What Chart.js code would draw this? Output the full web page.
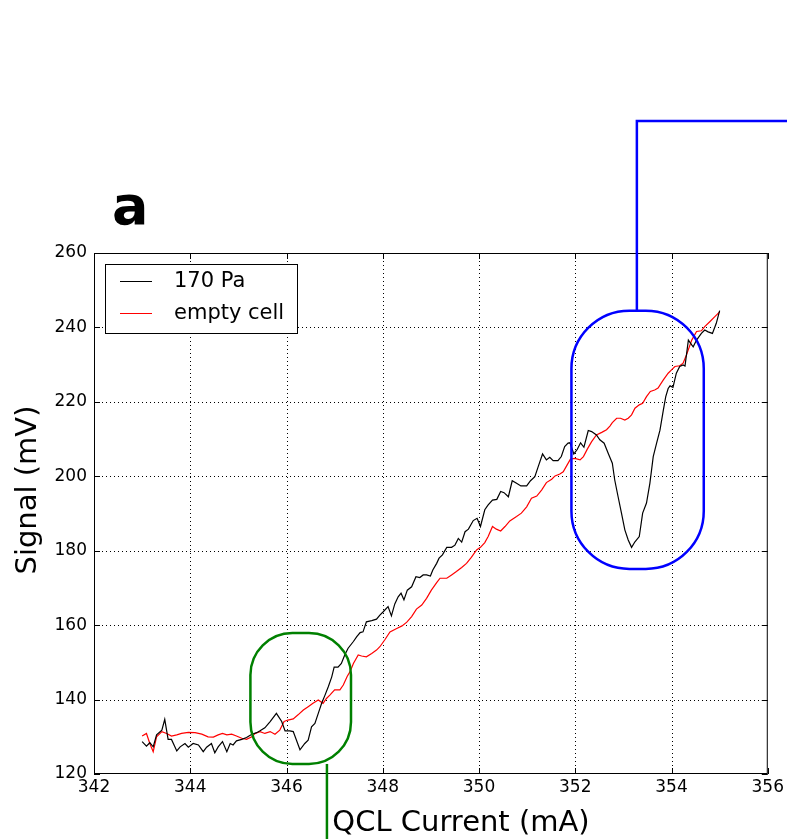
<!DOCTYPE html>
<html>
<head>
<meta charset="utf-8">
<script src="https://cdn.jsdelivr.net/npm/chart.js@4.4.1/dist/chart.umd.min.js"></script>
<style>
  html, body { margin: 0; padding: 0; background: #fff; }
  #wrap { width: 787px; height: 839px; position: relative; }
</style>
</head>
<body>
<div id="wrap"><canvas id="chart"></canvas></div>
<script>
// QCL current (mA) / signal (mV)
const blackX = [343.00, 343.09, 343.16, 343.23, 343.30, 343.41, 343.47, 343.54, 343.61, 343.72, 343.79, 343.89, 343.96,
  344.06, 344.17, 344.27, 344.34, 344.44, 344.51, 344.58, 344.67, 344.76, 344.83, 344.89, 344.96,
  345.07, 345.17, 345.28, 345.38, 345.45, 345.55, 345.66, 345.79, 345.90, 345.97,
  346.07, 346.14, 346.28, 346.38, 346.45, 346.52, 346.59, 346.66, 346.73, 346.80, 346.87, 346.94, 346.99,
  347.07, 347.14, 347.21, 347.28, 347.39, 347.46, 347.53, 347.59, 347.66, 347.77, 347.87, 347.94,
  348.01, 348.11, 348.18, 348.25, 348.32, 348.38, 348.44, 348.51, 348.60, 348.69, 348.77, 348.84, 348.91, 348.99,
  349.04, 349.12, 349.17, 349.24, 349.33, 349.43, 349.50, 349.57, 349.64, 349.71, 349.78, 349.88, 349.96,
  350.03, 350.12, 350.19, 350.28, 350.37, 350.45, 350.52, 350.61, 350.69, 350.78, 350.87, 350.99,
  351.07, 351.16, 351.23, 351.32, 351.40, 351.47, 351.54, 351.64, 351.71, 351.78, 351.85, 351.89, 351.97,
  352.04, 352.11, 352.18, 352.27, 352.34, 352.44, 352.51, 352.60, 352.69, 352.77, 352.82, 352.89, 352.96,
  353.03, 353.10, 353.17, 353.24, 353.33, 353.40, 353.48, 353.55, 353.62, 353.69, 353.76, 353.83, 353.88, 353.93, 353.97,
  354.03, 354.10, 354.17, 354.24, 354.28, 354.35, 354.42, 354.45, 354.52, 354.62, 354.69, 354.76, 354.85, 354.93, 355.00];
const blackY = [128.7, 127.5, 128.4, 127.3, 130.5, 131.8, 134.7, 129.3, 129.3, 126.2, 127.3, 128.2, 127.2,
  128.2, 127.8, 126.0, 127.2, 128.2, 125.7, 127.3, 128.7, 126.0, 128.2, 127.8, 128.9,
  129.3, 129.8, 130.7, 131.1, 131.6, 132.4, 134.1, 136.3, 134.1, 131.6,
  131.6, 131.4, 126.5, 128.2, 129.1, 132.7, 133.6, 136.3, 139.0, 141.2, 143.5, 146.1, 148.7,
  148.7, 149.7, 152.0, 153.8, 155.6, 156.9, 158.0, 158.2, 160.9, 161.2, 161.6, 162.7,
  163.6, 165.0, 162.5, 165.7, 167.6, 168.6, 166.8, 169.4, 170.3, 173.0, 172.8, 173.5, 173.5, 173.2,
  174.8, 176.6, 178.0, 178.9, 180.9, 180.9, 181.5, 183.3, 182.3, 185.1, 185.8, 188.1, 188.7,
  186.5, 191.0, 192.3, 193.6, 193.8, 195.9, 195.6, 194.5, 198.8, 198.1, 197.4, 197.4,
  198.8, 199.9, 202.6, 206.0, 204.4, 205.1, 204.2, 204.2, 205.3, 208.0, 208.9, 209.0, 206.0,
  207.2, 209.0, 207.8, 212.3, 212.0, 211.1, 209.8, 208.9, 206.0, 203.5, 199.0, 194.5, 190.1,
  185.6, 182.9, 180.9, 182.4, 183.8, 190.1, 192.8, 198.1, 205.3, 208.9, 212.4, 217.8, 221.4, 223.6, 224.3,
  223.9, 227.7, 229.5, 229.9, 229.6, 236.6, 235.3, 234.8, 236.6, 238.4, 239.3, 238.8, 238.4, 241.1, 244.5];

const redX = [343.00, 343.09, 343.16, 343.23, 343.30, 343.41, 343.51, 343.61, 343.72, 343.82, 343.96,
  344.10, 344.24, 344.37, 344.48, 344.58, 344.67, 344.76, 344.86, 344.96,
  345.07, 345.17, 345.28, 345.35, 345.45, 345.55, 345.66, 345.76, 345.86, 345.95,
  346.03, 346.14, 346.24, 346.35, 346.45, 346.55, 346.66, 346.76, 346.83, 346.90,
  347.00, 347.11, 347.18, 347.26, 347.32, 347.39, 347.49, 347.56, 347.66, 347.77, 347.87, 347.94,
  348.04, 348.15, 348.29, 348.40, 348.50, 348.60, 348.70, 348.81, 348.91,
  349.01, 349.12, 349.19, 349.33, 349.43, 349.53, 349.64, 349.74, 349.84, 349.95,
  350.03, 350.12, 350.19, 350.28, 350.36, 350.45, 350.54, 350.64, 350.78, 350.88, 350.99,
  351.09, 351.20, 351.30, 351.40, 351.51, 351.58, 351.68, 351.75, 351.82, 351.90, 351.99,
  352.10, 352.17, 352.25, 352.34, 352.44, 352.55, 352.65, 352.72, 352.77, 352.86, 352.94,
  353.03, 353.10, 353.17, 353.24, 353.33, 353.40, 353.48, 353.56, 353.65, 353.72, 353.83, 353.93,
  354.00, 354.07, 354.17, 354.24, 354.31, 354.42, 354.52, 354.62, 354.69, 354.80, 354.90, 355.00];
const redY = [130.2, 130.9, 128.2, 126.0, 130.0, 131.4, 130.9, 130.2, 130.5, 130.9, 131.2,
  131.1, 130.7, 130.0, 129.9, 130.5, 130.9, 130.5, 130.7, 130.2,
  129.6, 129.3, 130.0, 130.9, 131.4, 130.9, 131.4, 130.7, 131.8, 134.1,
  134.5, 134.8, 135.9, 137.2, 138.1, 139.0, 139.9, 139.0, 140.3, 141.2,
  142.6, 142.6, 143.9, 146.2, 147.5, 149.7, 152.0, 151.7, 151.5, 152.4, 153.3, 154.2,
  156.0, 158.2, 159.1, 159.8, 160.8, 162.3, 164.3, 165.4, 167.2,
  169.4, 171.4, 172.6, 172.6, 173.5, 174.4, 175.5, 176.6, 178.2, 180.2,
  180.9, 182.2, 183.8, 186.5, 185.8, 185.3, 186.5, 188.0, 189.2, 190.1, 191.8,
  194.1, 194.7, 196.3, 198.3, 199.2, 200.1, 200.6, 201.2, 202.8, 204.6, 204.8,
  204.4, 205.3, 207.3, 209.3, 211.1, 211.8, 212.5, 213.5, 214.4, 215.6, 215.6,
  215.1, 215.6, 216.5, 218.3, 219.2, 219.6, 221.4, 222.8, 223.2, 223.7, 225.9, 227.7,
  228.6, 229.5, 229.7, 230.4, 232.6, 236.6, 238.9, 239.1, 240.2, 241.6, 242.9, 244.2];

const seriesNames = ['170 Pa', 'empty cell'];
const xTicks = [342, 344, 346, 348, 350, 352, 354, 356];
const yTicks = [120, 140, 160, 180, 200, 220, 240, 260];

const FONT = '"DejaVu Sans", sans-serif';

// highlighted regions, in data units
const greenBox = { x0: 345.25, x1: 347.34, y0: 122.7, y1: 157.9, r: 42 };
const blueBox = { x0: 351.92, x1: 354.67, y0: 175.1, y1: 244.5, r: 58 };

function roundBox(ctx, x0, y0, x1, y1, r) {
    ctx.beginPath();
    ctx.moveTo(x0 + r, y0);
    ctx.arcTo(x1, y0, x1, y1, r);
    ctx.arcTo(x1, y1, x0, y1, r);
    ctx.arcTo(x0, y1, x0, y0, r);
    ctx.arcTo(x0, y0, x1, y0, r);
    ctx.closePath();
    ctx.stroke();
}

const overlay = {
    id: 'overlay',
    beforeDatasetsDraw(chart) {
        const { ctx, chartArea: a, scales: { x, y } } = chart;
        ctx.save();
        ctx.strokeStyle = '#000';
        ctx.lineWidth = 1;
        ctx.setLineDash([1, 3]);
        xTicks.slice(1, -1).forEach(v => {
            const px = Math.round(x.getPixelForValue(v)) + 0.5;
            ctx.beginPath(); ctx.moveTo(px, a.top); ctx.lineTo(px, a.bottom); ctx.stroke();
        });
        yTicks.slice(1, -1).forEach(v => {
            const py = Math.round(y.getPixelForValue(v)) + 0.5;
            ctx.beginPath(); ctx.moveTo(a.left, py); ctx.lineTo(a.right, py); ctx.stroke();
        });
        ctx.restore();
    },
    afterDatasetsDraw(chart) {
        const { ctx, chartArea: a, scales: { x, y } } = chart;
        ctx.save();

        // frame + inward ticks
        ctx.strokeStyle = '#000';
        ctx.lineWidth = 1;
        ctx.strokeRect(a.left + 0.5, a.top + 0.5, a.width - 1, a.height - 1);
        xTicks.forEach(v => {
            const px = Math.round(x.getPixelForValue(v)) + 0.5;
            ctx.beginPath();
            ctx.moveTo(px, a.bottom); ctx.lineTo(px, a.bottom - 6);
            ctx.moveTo(px, a.top); ctx.lineTo(px, a.top + 6);
            ctx.stroke();
        });
        yTicks.forEach(v => {
            const py = Math.round(y.getPixelForValue(v)) + 0.5;
            ctx.beginPath();
            ctx.moveTo(a.left, py); ctx.lineTo(a.left + 6, py);
            ctx.moveTo(a.right, py); ctx.lineTo(a.right - 6, py);
            ctx.stroke();
        });

        // legend
        ctx.fillStyle = '#fff';
        ctx.fillRect(105, 264, 192, 69);
        ctx.strokeRect(105.5, 264.5, 192, 69);
        const colors = ['#000000', '#ff0000'];
        const rows = [281, 313];
        ctx.font = '21px ' + FONT;
        ctx.textBaseline = 'middle';
        ctx.textAlign = 'left';
        seriesNames.forEach((name, i) => {
            ctx.strokeStyle = colors[i];
            ctx.beginPath(); ctx.moveTo(120, rows[i] + 0.5); ctx.lineTo(152, rows[i] + 0.5); ctx.stroke();
            ctx.fillStyle = '#000';
            ctx.fillText(name, 174, rows[i] + 1);
        });

        // highlighted regions and leaders
        ctx.lineWidth = 2.5;
        ctx.strokeStyle = '#008000';
        roundBox(ctx, x.getPixelForValue(greenBox.x0), y.getPixelForValue(greenBox.y1),
            x.getPixelForValue(greenBox.x1), y.getPixelForValue(greenBox.y0), greenBox.r);
        const gx = x.getPixelForValue(346.84);
        ctx.beginPath(); ctx.moveTo(gx, y.getPixelForValue(greenBox.y0)); ctx.lineTo(gx, chart.height); ctx.stroke();

        ctx.strokeStyle = '#0000ff';
        roundBox(ctx, x.getPixelForValue(blueBox.x0), y.getPixelForValue(blueBox.y1),
            x.getPixelForValue(blueBox.x1), y.getPixelForValue(blueBox.y0), blueBox.r);
        const bx = x.getPixelForValue(353.28);
        ctx.beginPath();
        ctx.moveTo(bx, y.getPixelForValue(blueBox.y1));
        ctx.lineTo(bx, 121);
        ctx.lineTo(chart.width, 121);
        ctx.stroke();

        ctx.restore();
    },
    afterDraw(chart) {
        const { ctx } = chart;
        ctx.save();
        ctx.fillStyle = '#000';
        ctx.font = 'bold 54px ' + FONT;
        ctx.textAlign = 'left';
        ctx.textBaseline = 'alphabetic';
        ctx.fillText('a', 112, 224);

        ctx.font = '29px ' + FONT;
        ctx.textAlign = 'center';
        ctx.fillText('QCL Current (mA)', 461, 831);

        ctx.translate(28, 490);
        ctx.rotate(-Math.PI / 2);
        ctx.textBaseline = 'middle';
        ctx.fillText('Signal (mV)', 0, 0);
        ctx.restore();
    }
};

new Chart(document.getElementById('chart'), {
    type: 'line',
    data: {
        datasets: [
            {
                label: seriesNames[0],
                data: blackX.map((v, i) => ({ x: v, y: blackY[i] })),
                borderColor: '#000000', borderWidth: 1.2,
                pointRadius: 0, tension: 0, fill: false
            },
            {
                label: seriesNames[1],
                data: redX.map((v, i) => ({ x: v, y: redY[i] })),
                borderColor: '#ff0000', borderWidth: 1.2,
                pointRadius: 0, tension: 0, fill: false
            }
        ]
    },
    options: {
        responsive: true,
        maintainAspectRatio: false,
        animation: false,
        layout: { padding: { left: 0, top: 253, right: 19, bottom: 0 } },
        plugins: { legend: { display: false }, tooltip: { enabled: false } },
        scales: {
            x: {
                type: 'linear', min: 342, max: 356,
                afterBuildTicks: s => { s.ticks = xTicks.map(v => ({ value: v })); },
                afterFit: s => { s.height = 65; },
                grid: { display: false, drawTicks: false },
                border: { display: false },
                ticks: { color: '#000', padding: 3, maxRotation: 0, font: { family: FONT, size: 17 } }
            },
            y: {
                type: 'linear', min: 120, max: 260,
                afterBuildTicks: s => { s.ticks = yTicks.map(v => ({ value: v })); },
                afterFit: s => { s.width = 94; },
                grid: { display: false, drawTicks: false },
                border: { display: false },
                ticks: { color: '#000', padding: 7, font: { family: FONT, size: 17 } }
            }
        }
    },
    plugins: [overlay]
});
</script>
</body>
</html>
